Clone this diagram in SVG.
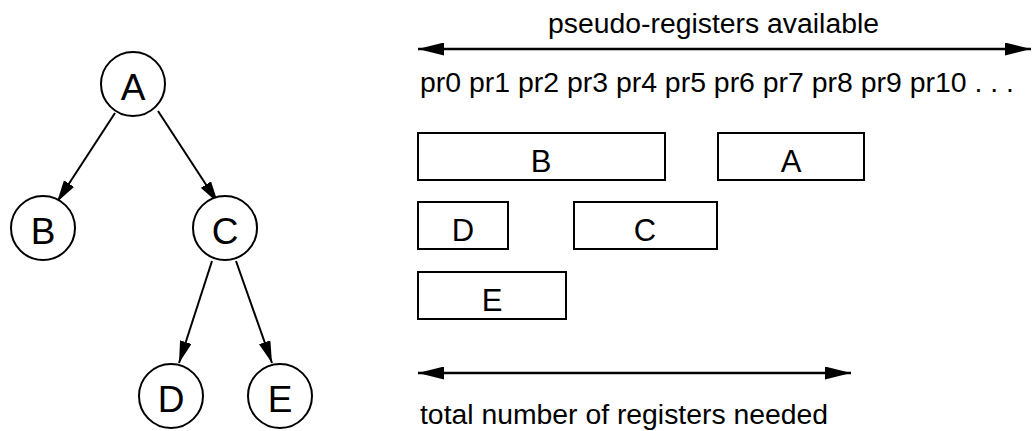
<svg xmlns="http://www.w3.org/2000/svg" width="1032" height="431" viewBox="0 0 1032 431">
<style>
  .node circle { fill: #fff; stroke: #000; stroke-width: 2; }
  .node rect { fill: #fff; stroke: #000; stroke-width: 2; }
  .lbl { font-family: "Liberation Sans", Arial, sans-serif; font-size: 37px; text-anchor: middle; fill: #000; }
  .blbl { font-family: "Liberation Sans", Arial, sans-serif; font-size: 31px; text-anchor: middle; fill: #000; }
  .txt { font-family: "Liberation Sans", Arial, sans-serif; font-size: 27px; fill: #000; }
  .edge { stroke: #000; stroke-width: 2; fill: none; marker-end: url(#ah); }
  .dim { stroke: #000; stroke-width: 2.5; fill: none; marker-start: url(#hh); marker-end: url(#hh); }
</style>
<defs>
  <marker id="ah" markerUnits="userSpaceOnUse" markerWidth="22" markerHeight="12" refX="22" refY="6" orient="auto">
    <path d="M0,0 L22,6 L0,12 z" fill="#000"/>
  </marker>
  <marker id="hh" markerUnits="userSpaceOnUse" markerWidth="26" markerHeight="13" refX="26" refY="6.5" orient="auto-start-reverse">
    <path d="M0,0 L26,6.5 L0,13 z" fill="#000"/>
  </marker>
</defs>
<rect width="1032" height="431" fill="#fff"/>
<g id="connectors">
  <line class="edge" x1="115" y1="113" x2="57" y2="202"/>
  <line class="edge" x1="158" y1="111" x2="218" y2="203"/>
  <line class="edge" x1="212" y1="261" x2="179" y2="363"/>
  <line class="edge" x1="236" y1="261" x2="272" y2="363"/>
  <line class="dim" x1="418" y1="49" x2="1031" y2="49"/>
  <line class="dim" x1="418" y1="373" x2="851" y2="373"/>
</g>
<g id="node-A" class="node"><circle cx="133" cy="84" r="32"/><text class="lbl" x="133" y="100">A</text></g>
<g id="node-B" class="node"><circle cx="43" cy="228" r="32"/><text class="lbl" x="43" y="244">B</text></g>
<g id="node-C" class="node"><circle cx="225" cy="228" r="32"/><text class="lbl" x="225" y="244">C</text></g>
<g id="node-D" class="node"><circle cx="171" cy="396" r="32"/><text class="lbl" x="171" y="412">D</text></g>
<g id="node-E" class="node"><circle cx="280" cy="396" r="32"/><text class="lbl" x="280" y="412">E</text></g>
<g id="reg-B" class="node"><rect x="418" y="133" width="247" height="47"/><text class="blbl" x="541" y="172">B</text></g>
<g id="reg-A" class="node"><rect x="718" y="133" width="146" height="47"/><text class="blbl" x="791" y="172">A</text></g>
<g id="reg-D" class="node"><rect x="418" y="202" width="90" height="47"/><text class="blbl" x="463" y="241">D</text></g>
<g id="reg-C" class="node"><rect x="574" y="202" width="143" height="47"/><text class="blbl" x="645" y="241">C</text></g>
<g id="reg-E" class="node"><rect x="418" y="272" width="148" height="47"/><text class="blbl" x="492" y="311">E</text></g>
<text class="txt" x="548" y="33" textLength="331" lengthAdjust="spacingAndGlyphs">pseudo-registers available</text>
<text class="txt" x="420" y="92" textLength="594" lengthAdjust="spacingAndGlyphs">pr0 pr1 pr2 pr3 pr4 pr5 pr6 pr7 pr8 pr9 pr10 . . .</text>
<text class="txt" x="420" y="424" textLength="408" lengthAdjust="spacingAndGlyphs">total number of registers needed</text>
</svg>
